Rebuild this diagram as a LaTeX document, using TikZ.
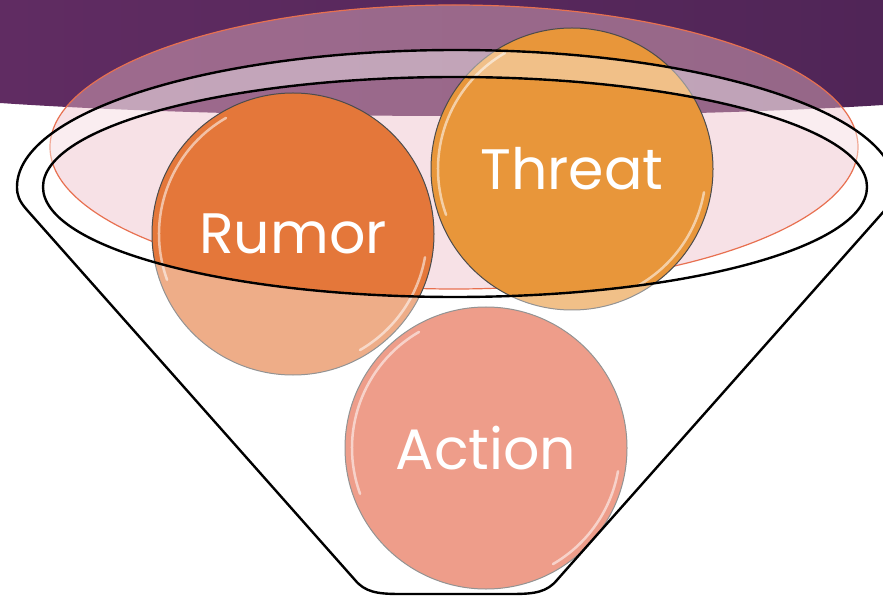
\documentclass[tikz,border=0pt]{standalone}
\usepackage{fontspec}
\setmainfont{Poppins}
\usetikzlibrary{positioning}

\definecolor{bandL}{RGB}{96,44,98}
\definecolor{bandR}{RGB}{80,37,87}
\definecolor{rimpink}{RGB}{239,187,199}
\definecolor{rimline}{RGB}{232,112,80}
\definecolor{rumorc}{RGB}{228,119,58}
\definecolor{threatc}{RGB}{232,150,58}
\definecolor{actionc}{RGB}{227,93,60}

\begin{document}
\begin{tikzpicture}[x=1pt, y=-1pt,
    ball/.style={circle, draw=black!70, line width=1pt, minimum size=282pt, inner sep=0pt,
                 text=white, font=\fontsize{57}{60}\selectfont},
    gloss/.style={white, opacity=0.55, line width=2.5pt, line cap=round},
    rim/.style={draw=black, line width=2.4pt}]
    \useasboundingbox (0,0) rectangle (883,601);
    \clip (0,0) rectangle (883,601);
    \fill[white] (0,0) rectangle (883,601);

    % Band
    \shade[left color=bandL, right color=bandR] (0,0) -- (883,0) -- (883,105)
        .. controls (650,120) and (250,120) .. (0,103) -- cycle;

    % Pink ellipse
    \fill[rimpink, fill opacity=0.44] (454,147) ellipse [x radius=404, y radius=142];
    \draw[rimline, line width=1.2pt] (454,147) ellipse [x radius=404, y radius=142];

    % Balls
    \node[ball, fill=rumorc] (rumor) at (293,234) {Rumor};
    \node[ball, fill=threatc] (threat) at (572,169) {Threat};
    \node[ball, fill=actionc] (action) at (486,448) {Action};
    \foreach \b in {rumor, threat, action} {
        \draw[gloss] (\b.center) ++(240:134) arc[start angle=240, end angle=160, radius=134];
        \draw[gloss] (\b.center) ++(10:134) arc[start angle=10, end angle=60, radius=134];
    }

    % Funnel
    \draw[rim, fill=white, fill opacity=0.4, even odd rule]
        (27,210) .. controls (19,201) and (17,195) .. (17,187)
        arc[start angle=180, end angle=360, x radius=439, y radius=137]
        .. controls (895,195) and (893,201) .. (885,210) -- (557,580)
        .. controls (547,592) and (535,594) .. (512,594) -- (400,594)
        .. controls (377,594) and (365,592) .. (355,580) -- cycle
        (455,187) ellipse [x radius=412, y radius=110];
\end{tikzpicture}
\end{document}
